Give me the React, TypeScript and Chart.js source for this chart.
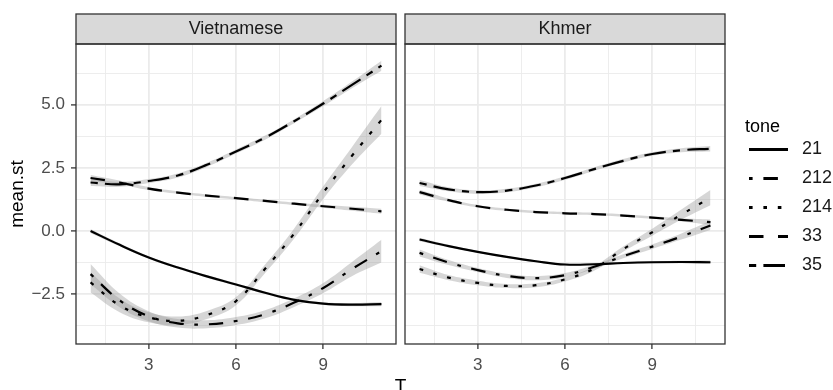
import React, { useEffect, useRef } from 'react';
import { Chart, registerables } from 'chart.js';
Chart.register(...registerables);

const FONT = "'Liberation Sans', Arial, Helvetica, sans-serif";

// ---- data ----
const T_VALUES = [1, 2, 3, 4, 5, 6, 7, 8, 9, 10, 11];
const TONES = ['21', '212', '214', '33', '35'];
const PANELS = ['Vietnamese', 'Khmer'];

// Vietnamese fitted means
const VIET_21 = [0.0, -0.55, -1.05, -1.45, -1.8, -2.12, -2.45, -2.73, -2.88, -2.92, -2.9];
const VIET_212 = [-1.71, -2.75, -3.38, -3.66, -3.7, -3.57, -3.3, -2.84, -2.26, -1.5, -0.8];
const VIET_214 = [-2.04, -2.95, -3.42, -3.56, -3.33, -2.78, -1.5, -0.1, 1.52, 3.0, 4.4];
const VIET_33 = [2.1, 1.92, 1.68, 1.52, 1.4, 1.3, 1.19, 1.08, 0.98, 0.88, 0.78];
const VIET_35 = [1.92, 1.85, 1.98, 2.2, 2.62, 3.15, 3.7, 4.35, 5.05, 5.8, 6.55];
// Vietnamese standard-error half widths
const VIET_21_SE = [0.08, 0.06, 0.05, 0.05, 0.05, 0.05, 0.05, 0.05, 0.05, 0.06, 0.08];
const VIET_212_SE = [0.4, 0.27, 0.2, 0.17, 0.16, 0.16, 0.16, 0.17, 0.2, 0.28, 0.45];
const VIET_214_SE = [0.4, 0.27, 0.2, 0.17, 0.16, 0.16, 0.17, 0.2, 0.25, 0.35, 0.55];
const VIET_33_SE = [0.12, 0.08, 0.06, 0.05, 0.05, 0.05, 0.05, 0.05, 0.06, 0.08, 0.1];
const VIET_35_SE = [0.14, 0.1, 0.08, 0.08, 0.08, 0.08, 0.08, 0.08, 0.1, 0.13, 0.2];

// Khmer fitted means
const KHMER_21 = [-0.34, -0.6, -0.83, -1.03, -1.2, -1.33, -1.32, -1.27, -1.24, -1.23, -1.24];
const KHMER_212 = [-0.87, -1.25, -1.55, -1.78, -1.87, -1.75, -1.42, -1.0, -0.62, -0.22, 0.22];
const KHMER_214 = [-1.51, -1.85, -2.06, -2.18, -2.15, -1.92, -1.49, -0.72, -0.05, 0.65, 1.32];
const KHMER_33 = [1.54, 1.22, 0.98, 0.84, 0.75, 0.7, 0.67, 0.61, 0.53, 0.44, 0.35];
const KHMER_35 = [1.9, 1.65, 1.54, 1.6, 1.8, 2.1, 2.45, 2.78, 3.05, 3.2, 3.26];
// Khmer standard-error half widths
const KHMER_21_SE = [0.07, 0.05, 0.04, 0.04, 0.04, 0.04, 0.04, 0.04, 0.04, 0.05, 0.07];
const KHMER_212_SE = [0.14, 0.1, 0.08, 0.08, 0.08, 0.08, 0.08, 0.08, 0.09, 0.12, 0.18];
const KHMER_214_SE = [0.15, 0.1, 0.09, 0.08, 0.08, 0.08, 0.09, 0.1, 0.14, 0.2, 0.3];
const KHMER_33_SE = [0.09, 0.06, 0.05, 0.05, 0.05, 0.05, 0.05, 0.05, 0.05, 0.06, 0.1];
const KHMER_35_SE = [0.12, 0.08, 0.07, 0.07, 0.07, 0.07, 0.07, 0.07, 0.07, 0.08, 0.11];

const X_TICKS = [1.5, 3, 4.5, 6, 7.5, 9, 10.5];
const X_MAJOR = [3, 6, 9];
const Y_TICKS = [-3.75, -2.5, -1.25, 0, 1.25, 2.5, 3.75, 5, 6.25];
const Y_MAJOR_LABELS: Record<string, string> = { '-2.5': '\u22122.5', '0': '0.0', '2.5': '2.5', '5': '5.0' };

const VIET_MEANS = [VIET_21, VIET_212, VIET_214, VIET_33, VIET_35];
const VIET_SES = [VIET_21_SE, VIET_212_SE, VIET_214_SE, VIET_33_SE, VIET_35_SE];
const KHMER_MEANS = [KHMER_21, KHMER_212, KHMER_214, KHMER_33, KHMER_35];
const KHMER_SES = [KHMER_21_SE, KHMER_212_SE, KHMER_214_SE, KHMER_33_SE, KHMER_35_SE];

// ---- styles ----
const DASHES: number[][] = [[], [3.6, 10.8, 14.5, 10.8], [3.6, 10.8], [14.5, 14.5], [7.2, 7.2, 21.6, 7.2]];
const LINE_W = 2.2;
const RIBBON = 'rgba(153,153,153,0.4)';
const GRID = '#ebebeb';
const DARK = '#333333';
const TICK_TEXT = '#4d4d4d';

function buildDatasets(means: number[][], ses: number[][]) {
  const ds: any[] = [];
  means.forEach((m, i) => {
    const s = ses[i];
    ds.push({
      label: TONES[i] + ' upper',
      data: T_VALUES.map((x, j) => ({ x, y: m[j] + s[j] })),
      borderWidth: 0, pointRadius: 0, tension: 0.4,
      fill: '+1', backgroundColor: RIBBON, borderColor: 'rgba(0,0,0,0)', order: 2,
    });
    ds.push({
      label: TONES[i] + ' lower',
      data: T_VALUES.map((x, j) => ({ x, y: m[j] - s[j] })),
      borderWidth: 0, pointRadius: 0, tension: 0.4,
      fill: false, borderColor: 'rgba(0,0,0,0)', order: 2,
    });
  });
  means.forEach((m, i) => {
    ds.push({
      label: TONES[i],
      data: T_VALUES.map((x, j) => ({ x, y: m[j] })),
      borderWidth: LINE_W, pointRadius: 0, tension: 0.4, fill: false,
      borderColor: '#000000', borderDash: DASHES[i], borderCapStyle: 'butt', order: 1,
    });
  });
  return ds;
}

const panelPlugin = (title: string) => ({
  id: 'panel_' + title,
  afterDraw(chart: any) {
    const { ctx, chartArea: a } = chart;
    ctx.save();
    ctx.fillStyle = '#d9d9d9';
    ctx.fillRect(a.left, a.top - 30, a.right - a.left, 30);
    ctx.strokeStyle = DARK;
    ctx.lineWidth = 1.3;
    ctx.strokeRect(a.left, a.top - 30, a.right - a.left, 30);
    ctx.fillStyle = '#1a1a1a';
    ctx.font = `18px ${FONT}`;
    ctx.textAlign = 'center';
    ctx.textBaseline = 'middle';
    ctx.fillText(title, (a.left + a.right) / 2, a.top - 15);
    ctx.strokeRect(a.left, a.top, a.right - a.left, a.bottom - a.top);
    ctx.restore();
  },
});

const legendPlugin = {
  id: 'toneLegend',
  afterDraw(chart: any) {
    const { ctx } = chart;
    ctx.save();
    ctx.fillStyle = '#000';
    ctx.font = `18px ${FONT}`;
    ctx.textAlign = 'left';
    ctx.textBaseline = 'middle';
    ctx.fillText('tone', 345, 127);
    const rows = [149.5, 178.5, 207.5, 236.5, 265.5];
    TONES.forEach((t, i) => {
      ctx.beginPath();
      ctx.setLineDash(DASHES[i]);
      ctx.lineWidth = LINE_W + 0.6;
      ctx.lineCap = 'butt';
      ctx.strokeStyle = '#000';
      ctx.moveTo(349, rows[i]);
      ctx.lineTo(388, rows[i]);
      ctx.stroke();
      ctx.setLineDash([]);
      ctx.fillStyle = '#1a1a1a';
      ctx.fillText(t, 402, rows[i]);
    });
    ctx.restore();
  },
};

function makeOptions(showY: boolean, padding: any) {
  return {
    responsive: false,
    animation: false,
    events: [],
    layout: { padding },
    plugins: { legend: { display: false }, tooltip: { enabled: false } },
    scales: {
      x: {
        type: 'linear', min: 0.5, max: 11.5,
        afterBuildTicks: (s: any) => { s.ticks = X_TICKS.map((v) => ({ value: v })); },
        afterFit: (s: any) => { s.height = 46; },
        border: { display: false },
        grid: {
          color: GRID,
          lineWidth: (c: any) => (X_MAJOR.includes(c.tick?.value) ? 1.8 : 0.9),
          tickColor: (c: any) => (X_MAJOR.includes(c.tick?.value) ? DARK : 'rgba(0,0,0,0)'),
          tickWidth: 1.3,
          tickLength: 5,
        },
        ticks: {
          autoSkip: false, maxRotation: 0, padding: 6, color: TICK_TEXT,
          font: { family: FONT, size: 17 },
          callback: (v: number) => (X_MAJOR.includes(v) ? String(v) : ''),
        },
      },
      y: {
        type: 'linear', min: -4.48, max: 7.41,
        afterBuildTicks: (s: any) => { s.ticks = Y_TICKS.map((v) => ({ value: v })); },
        afterFit: (s: any) => { s.width = showY ? 76 : 0; },
        border: { display: false },
        grid: {
          color: GRID,
          lineWidth: (c: any) => (Y_MAJOR_LABELS[String(c.tick?.value)] ? 1.8 : 0.9),
          tickColor: (c: any) => (showY && Y_MAJOR_LABELS[String(c.tick?.value)] ? DARK : 'rgba(0,0,0,0)'),
          tickWidth: 1.3,
          tickLength: 5,
          drawTicks: showY,
        },
        ticks: {
          display: showY, padding: 6, color: TICK_TEXT,
          font: { family: FONT, size: 17 },
          callback: (v: number) => Y_MAJOR_LABELS[String(v)] || '',
        },
        title: {
          display: showY, text: 'mean.st', color: '#000',
          font: { family: FONT, size: 19 }, padding: { top: 6, bottom: 0 },
        },
      },
    },
  };
}

export default function App() {
  const leftRef = useRef<HTMLCanvasElement>(null);
  const rightRef = useRef<HTMLCanvasElement>(null);

  useEffect(() => {
    const left = new Chart(leftRef.current as HTMLCanvasElement, {
      type: 'line',
      data: { datasets: buildDatasets(VIET_MEANS, VIET_SES) },
      options: makeOptions(true, { top: 44, left: 0, right: 4, bottom: 0 }) as any,
      plugins: [panelPlugin(PANELS[0])],
    });
    const right = new Chart(rightRef.current as HTMLCanvasElement, {
      type: 'line',
      data: { datasets: buildDatasets(KHMER_MEANS, KHMER_SES) },
      options: makeOptions(false, { top: 44, left: 5, right: 108, bottom: 0 }) as any,
      plugins: [panelPlugin(PANELS[1]), legendPlugin],
    });
    return () => { left.destroy(); right.destroy(); };
  }, []);

  return (
    <div style={{ position: 'fixed', left: 0, top: 0, width: 833, height: 390, overflow: 'hidden', background: '#fff' }}>
      <canvas ref={leftRef} width={400} height={390} style={{ position: 'absolute', left: 0, top: 0 }} />
      <canvas ref={rightRef} width={433} height={390} style={{ position: 'absolute', left: 400, top: 0 }} />
      <div style={{ position: 'absolute', left: 300, width: 201, top: 376, textAlign: 'center', fontFamily: FONT, fontSize: 19, lineHeight: '19px', color: '#000' }}>T</div>
    </div>
  );
}
